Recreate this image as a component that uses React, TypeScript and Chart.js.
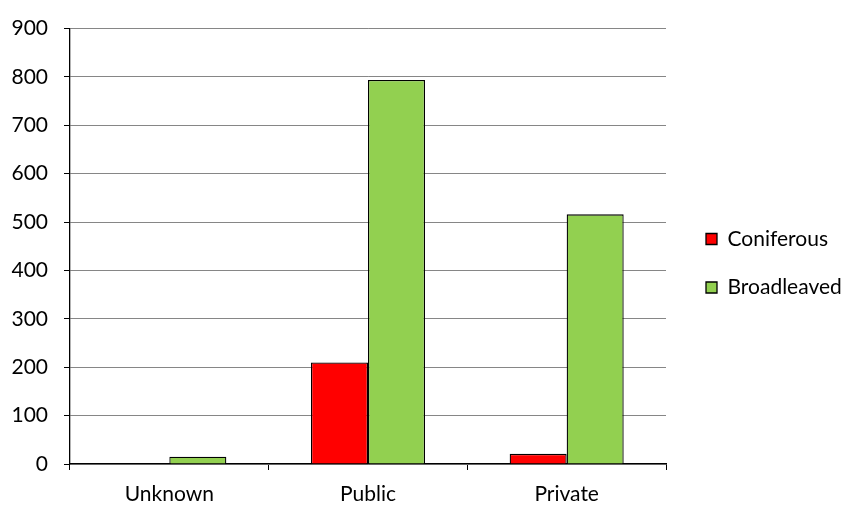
import React, { useEffect, useRef } from "react";
import { Chart, registerables } from "chart.js";

Chart.register(...registerables);

const categories = ["Unknown", "Public", "Private"];
const coniferous = [0, 210, 21];
const broadleaved = [15, 794, 516];
const yTicks = { min: 0, max: 900, step: 100 };

const FONT = "Lato";

const labelRoom = {
  id: "labelRoom",
  afterLayout(chart: any) {
    const x = chart.scales.x;
    if (x) x.bottom = chart.height;
  },
};

export default function App() {
  const ref = useRef<HTMLCanvasElement | null>(null);

  useEffect(() => {
    if (!ref.current) return;
    const baseGen = Chart.defaults.plugins.legend.labels.generateLabels;
    const chart = new Chart(ref.current, {
      type: "bar",
      data: {
        labels: categories,
        datasets: [
          {
            label: "Coniferous",
            data: coniferous,
            backgroundColor: "#FF0000",
            borderColor: "#000000",
            borderWidth: 1.3,
            categoryPercentage: 0.574,
            barPercentage: 1,
          },
          {
            label: "Broadleaved",
            data: broadleaved,
            backgroundColor: "#92D050",
            borderColor: "#000000",
            borderWidth: 1.3,
            categoryPercentage: 0.574,
            barPercentage: 1,
          },
        ],
      },
      plugins: [labelRoom],
      options: {
        animation: false,
        responsive: true,
        maintainAspectRatio: false,
        layout: { padding: { top: 26, bottom: 17, left: 0, right: 0 } },
        plugins: {
          tooltip: { enabled: false },
          legend: {
            position: "right",
            maxWidth: 184,
            labels: {
              boxWidth: 11,
              boxHeight: 11,
              padding: 40,
              color: "#000000",
              font: { family: FONT, size: 21, lineHeight: 0.405 },
              generateLabels: (c: any) =>
                baseGen(c).map((it: any) => ({ ...it, text: [it.text] })),
            },
          },
        },
        scales: {
          x: {
            type: "category",
            afterFit: (axis: any) => {
              axis.height = 24;
            },
            grid: {
              display: true,
              drawOnChartArea: false,
              drawTicks: true,
              tickLength: 6,
              tickColor: "#000000",
              offset: true,
            },
            border: { display: true, color: "#000000", width: 1.3 },
            ticks: {
              color: "#000000",
              padding: 12,
              font: { family: FONT, size: 21 },
              maxRotation: 0,
            },
          },
          y: {
            min: yTicks.min,
            max: yTicks.max,
            afterFit: (axis: any) => {
              axis.width = 70;
            },
            grid: {
              color: "#868686",
              lineWidth: 1,
              drawTicks: true,
              tickLength: 6,
              tickColor: "#000000",
            },
            border: { display: true, color: "#000000", width: 1.3 },
            ticks: {
              stepSize: yTicks.step,
              color: "#000000",
              padding: 16,
              font: { family: FONT, size: 21 },
            },
          },
        },
      },
    });
    return () => chart.destroy();
  }, []);

  return (
    <div style={{ position: "absolute", left: 0, top: 0, width: 850, height: 505, background: "#fff" }}>
      <canvas ref={ref} />
    </div>
  );
}
